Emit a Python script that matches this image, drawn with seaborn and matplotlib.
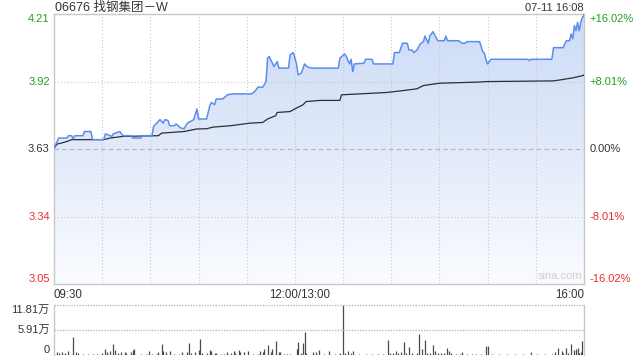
import numpy as np
import pandas as pd
import matplotlib
matplotlib.use("Agg")
import matplotlib.pyplot as plt
import seaborn as sns
from matplotlib.colors import LinearSegmentedColormap
from matplotlib.transforms import blended_transform_factory

# ---------------- data ----------------
title_text = "06676 找钢集团－W"
stamp_text = "07-11 16:08"
pre_close = 3.6287
span_pct = 0.1602

price_times = ["09:30", "09:32", "09:33", "09:38", "09:39", "09:41", "09:42", "09:43", "09:48", "09:49",
               "09:53", "09:54", "10:01", "10:02", "10:06", "10:07", "10:11", "10:12", "10:13", "10:18",
               "10:19", "10:24", "10:25", "10:31", "10:32", "10:36", "10:38", "10:39", "10:41", "10:42",
               "10:45", "10:46", "10:49", "10:51", "10:53", "10:57", "10:59", "11:00", "11:05", "11:07",
               "11:08", "11:10", "11:11", "11:15", "11:18", "11:21", "11:33", "11:35", "11:37", "11:40",
               "11:42", "11:43", "11:44", "11:47", "11:49", "11:50", "11:56", "11:57", "11:59", "13:01",
               "13:02", "13:04", "13:06", "13:08", "13:11", "13:27", "13:28", "13:31", "13:32", "13:34",
               "13:35", "13:36", "13:37", "13:43", "13:44", "13:48", "13:49", "14:01", "14:02", "14:05",
               "14:07", "14:10", "14:11", "14:13", "14:14", "14:16", "14:18", "14:20", "14:21", "14:23",
               "14:24", "14:26", "14:27", "14:29", "14:33", "14:34", "14:35", "14:42", "14:44", "14:46",
               "14:47", "14:55", "14:57", "14:58", "14:59", "15:00", "15:02", "15:25", "15:26", "15:27",
               "15:40", "15:41", "15:47", "15:48", "15:49", "15:51", "15:52", "15:53", "15:54", "15:55",
               "15:56", "15:57", "15:58", "15:59", "16:00", "16:08"]
price_vals = [3.633, 3.661, 3.676, 3.676, 3.686, 3.686, 3.672, 3.686, 3.686, 3.704,
              3.704, 3.669, 3.669, 3.694, 3.683, 3.694, 3.704, 3.694, 3.686, 3.686,
              3.676, 3.676, 3.686, 3.686, 3.726, 3.755, 3.740, 3.755, 3.752, 3.729,
              3.729, 3.737, 3.719, 3.716, 3.740, 3.755, 3.801, 3.758, 3.758, 3.815,
              3.829, 3.819, 3.844, 3.844, 3.862, 3.866, 3.866, 3.876, 3.895, 3.895,
              3.919, 4.020, 4.027, 3.984, 4.005, 3.977, 3.977, 4.034, 4.044, 3.995,
              3.948, 3.955, 3.995, 3.981, 3.977, 3.977, 4.020, 4.038, 4.027, 3.995,
              4.015, 3.962, 3.995, 3.998, 4.015, 4.015, 3.995, 3.995, 4.044, 4.044,
              4.084, 4.084, 4.055, 4.055, 4.044, 4.055, 4.081, 4.091, 4.115, 4.084,
              4.115, 4.134, 4.120, 4.095, 4.095, 4.115, 4.095, 4.095, 4.084, 4.084,
              4.091, 4.091, 4.048, 4.041, 4.012, 3.995, 4.015, 4.015, 4.009, 4.015,
              4.015, 4.065, 4.065, 4.081, 4.095, 4.095, 4.124, 4.103, 4.160, 4.138,
              4.174, 4.138, 4.174, 4.196, 4.203, 4.210]

avg_times = ["09:30", "09:32", "09:35", "09:38", "09:41", "10:01", "10:05", "10:13", "10:35", "10:37",
             "10:51", "10:59", "11:05", "11:09", "11:20", "11:32", "11:40", "11:43", "11:48", "11:49",
             "11:57", "13:01", "13:05", "13:07", "13:16", "13:28", "13:29", "13:57", "14:07", "14:16",
             "14:20", "14:30", "14:55", "14:59", "15:41", "15:45", "15:53", "16:00", "16:08"]
avg_vals = [3.633, 3.650, 3.655, 3.661, 3.669, 3.669, 3.676, 3.683, 3.686, 3.697,
            3.704, 3.715, 3.716, 3.723, 3.729, 3.740, 3.743, 3.758, 3.772, 3.786,
            3.790, 3.805, 3.819, 3.833, 3.838, 3.838, 3.862, 3.872, 3.880, 3.888,
            3.902, 3.912, 3.917, 3.919, 3.922, 3.926, 3.935, 3.946, 3.948]

vol_times = ["09:32", "09:33", "09:35", "09:37", "09:39", "09:42", "09:44", "09:45", "09:48", "09:51",
             "09:54", "09:57", "10:00", "10:02", "10:03", "10:05", "10:07", "10:08", "10:10", "10:12",
             "10:14", "10:15", "10:18", "10:19", "10:20", "10:24", "10:27", "10:29", "10:31", "10:34",
             "10:35", "10:37", "10:38", "10:40", "10:42", "10:45", "10:48", "10:50", "10:53", "10:54",
             "10:55", "10:58", "11:00", "11:01", "11:02", "11:05", "11:07", "11:08", "11:10", "11:11",
             "11:14", "11:16", "11:18", "11:20", "11:22", "11:23", "11:25", "11:26", "11:28", "11:31",
             "11:34", "11:37", "11:38", "11:40", "11:41", "11:43", "11:45", "11:46", "11:48", "11:50",
             "11:51", "11:53", "11:55", "11:57", "13:01", "13:02", "13:04", "13:05", "13:06", "13:07",
             "13:11", "13:13", "13:15", "13:18", "13:21", "13:25", "13:28", "13:30", "13:31", "13:33",
             "13:35", "13:36", "13:40", "13:44", "13:48", "13:52", "13:55", "13:58", "13:59", "14:01",
             "14:03", "14:04", "14:06", "14:08", "14:09", "14:11", "14:13", "14:16", "14:17", "14:19",
             "14:21", "14:22", "14:24", "14:26", "14:27", "14:29", "14:31", "14:33", "14:35", "14:36",
             "14:37", "14:40", "14:43", "14:44", "14:47", "14:50", "14:53", "14:56", "14:59", "15:00",
             "15:03", "15:07", "15:12", "15:17", "15:22", "15:27", "15:31", "15:36", "15:40", "15:42",
             "15:44", "15:46", "15:47", "15:49", "15:50", "15:52", "15:54", "15:55", "15:56", "15:57",
             "15:58", "15:59"]
vol_vals = [0.8, 0.4, 0.8, 0.55, 1.0, 4.33, 0.8, 0.4, 0.3, 0.3,
            0.3, 0.3, 0.4, 1.4, 0.8, 1.0, 2.6, 1.2, 0.55, 0.8,
            0.8, 0.55, 0.8, 1.2, 1.4, 0.3, 0.3, 0.95, 0.3, 0.3,
            0.8, 2.6, 0.95, 0.6, 0.95, 0.3, 0.3, 0.6, 0.8, 2.9,
            0.4, 0.8, 1.2, 3.8, 0.55, 0.55, 1.2, 1.0, 0.55, 0.4,
            0.3, 0.3, 0.8, 0.55, 1.0, 0.4, 1.2, 0.6, 0.8, 0.95,
            0.3, 0.3, 0.95, 0.8, 1.35, 2.4, 0.8, 1.4, 3.4, 0.6,
            0.8, 0.3, 0.3, 0.3, 1.4, 3.15, 0.55, 2.9, 5.5, 0.4,
            0.6, 0.8, 1.2, 0.3, 0.95, 0.3, 0.4, 11.81, 0.4, 0.95,
            0.55, 0.95, 0.3, 0.3, 0.3, 0.3, 0.3, 3.55, 0.55, 0.55,
            0.95, 0.4, 0.8, 3.15, 0.4, 1.95, 0.4, 0.55, 4.95, 1.4,
            3.55, 0.55, 0.4, 2.4, 0.95, 0.55, 0.4, 0.55, 1.6, 0.95,
            0.55, 0.3, 0.3, 0.8, 0.3, 0.3, 0.3, 0.3, 2.1, 2.1,
            0.3, 0.3, 0.3, 0.3, 0.3, 0.6, 0.3, 0.3, 0.3, 0.8,
            1.6, 0.95, 0.4, 1.6, 0.55, 2.6, 1.2, 1.35, 1.6, 0.55,
            0.8, 3.4]

vol_tick_vals = [11.81, 5.91, 0]
vol_tick_labels = ["11.81万", "5.91万", "0"]
x_labels = ["09:30", "12:00/13:00", "16:00"]
pct_ticks = [0.1602, 0.0801, 0.0, -0.0801, -0.1602]


def tidx(t):
    h, m = map(int, t.split(":"))
    mins = h * 60 + m
    if mins <= 12 * 60:
        return mins - (9 * 60 + 30)
    return min(mins - 13 * 60, 180) + 150


# ---------------- style ----------------
sns.set_style("white")
plt.rcParams["font.family"] = ["Liberation Sans", "Noto Sans CJK SC", "DejaVu Sans"]

GREEN = "#1fa01f"
RED = "#e8302c"
DARK = "#333333"
GRID = "#c9c9c9"
BORDER = "#c8c8c8"

fig = plt.figure(figsize=(6.4, 3.6), dpi=100)
ax = fig.add_axes([54 / 640, 1 - 284 / 360, 530 / 640, 270 / 360])
axv = fig.add_axes([54 / 640, 1 - 355 / 360, 530 / 640, 50 / 360])

ymin = pre_close * (1 - span_pct)
ymax = pre_close * (1 + span_pct)

df_p = pd.DataFrame({"t": [tidx(t) for t in price_times], "p": price_vals})
df_a = pd.DataFrame({"t": [tidx(t) for t in avg_times], "p": avg_vals})
df_v = pd.DataFrame({"t": [tidx(t) for t in vol_times], "v": vol_vals})

# gradient fill under the price line
fill = ax.fill_between(df_p["t"], df_p["p"], ymin, color="none", lw=0)
grad = np.linspace(1, 0, 256).reshape(-1, 1)
cmap = LinearSegmentedColormap.from_list("g", ["#fafcff", "#e2eafa", "#ccdbf6"])
im = ax.imshow(grad, cmap=cmap, aspect="auto", extent=[0, 330, ymin, ymax],
               origin="upper", vmin=0, vmax=1, zorder=1, interpolation="bilinear")
im.set_clip_path(fill.get_paths()[0], transform=ax.transData)

# grid
for k in range(1, 11):
    ax.axvline(k * 30, color=GRID, lw=0.8, ls=(0, (1, 2)), zorder=2)
for p in (0.0801, -0.0801):
    ax.axhline(pre_close * (1 + p), color=GRID, lw=0.8, ls=(0, (1, 2)), zorder=2)
ax.axhline(pre_close, color="#b5b5b5", lw=0.8, ls=(0, (4, 3)), zorder=2)

sns.lineplot(data=df_p, x="t", y="p", ax=ax, color="#5b8def", lw=1.1,
             estimator=None, sort=False, zorder=4)
sns.lineplot(data=df_a, x="t", y="p", ax=ax, color="#2b2f36", lw=0.9,
             estimator=None, sort=False, zorder=3)

ax.set_xlim(0, 330)
ax.set_ylim(ymin, ymax)
ax.set_xticks([])
ax.set_yticks([])
ax.set_xlabel("")
ax.set_ylabel("")
for s in ax.spines.values():
    s.set_visible(True)
    s.set_color(BORDER)
    s.set_linewidth(1)

trY = blended_transform_factory(ax.transAxes, ax.transData)
for i, p in enumerate(pct_ticks):
    val = pre_close * (1 + p)
    col = GREEN if p > 0 else (RED if p < 0 else DARK)
    va = "top" if i == 0 else ("bottom" if i == len(pct_ticks) - 1 else "center")
    ax.text(-0.008, val, f"{val:.2f}", transform=trY, ha="right", va=va, color=col, fontsize=8)
    plab = "0.00%" if p == 0 else f"{p * 100:+.2f}%"
    ax.text(1.011, val, plab, transform=trY, ha="left", va=va, color=col, fontsize=8)

trX = blended_transform_factory(ax.transData, ax.transAxes)
ax.text(0, -0.02, x_labels[0], transform=trX, ha="left", va="top", color=DARK, fontsize=8.3)
ax.text(153, -0.02, x_labels[1], transform=trX, ha="center", va="top", color=DARK, fontsize=8.3)
ax.text(330, -0.02, x_labels[2], transform=trX, ha="right", va="top", color=DARK, fontsize=8.3)

ax.text(0.955, 0.012, "sina.com", transform=ax.transAxes, ha="center", va="bottom",
        color="#cfcfcf", fontsize=8, zorder=5)

# volume panel
axv.vlines(df_v["t"], 0, df_v["v"], color="#4a4a4a", lw=0.9)
axv.set_xlim(0, 330)
axv.set_ylim(0, 11.81)
axv.set_xticks([])
axv.set_yticks([])
for side in ("top", "bottom"):
    axv.spines[side].set_visible(False)
for side in ("left", "right"):
    axv.spines[side].set_visible(True)
    axv.spines[side].set_color(BORDER)
    axv.spines[side].set_linewidth(1)
for v in vol_tick_vals[:2]:
    axv.axhline(v, color="#bdbdbd", lw=1, ls=(0, (1, 1)), clip_on=False)
trV = blended_transform_factory(axv.transAxes, axv.transData)
for v, lab, va in zip(vol_tick_vals, vol_tick_labels, ["top", "center", "bottom"]):
    axv.text(-0.008, v, lab, transform=trV, ha="right", va=va, color=DARK, fontsize=8)

fig.text(55 / 640, 1 - 8 / 360, title_text, ha="left", va="center", color=DARK, fontsize=9)
fig.text(584 / 640, 1 - 8 / 360, stamp_text, ha="right", va="center", color=DARK, fontsize=8)

fig.savefig("out.png", dpi=100)
